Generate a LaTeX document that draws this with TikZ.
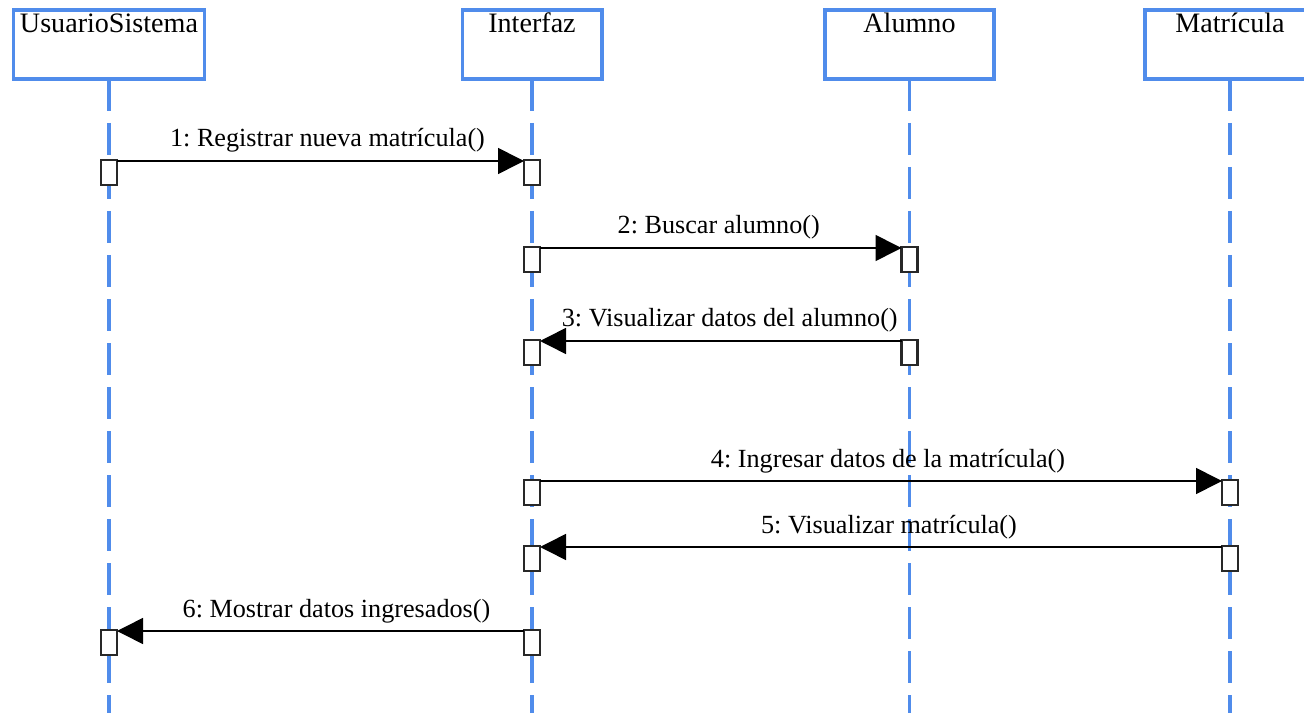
\documentclass[tikz,border=0pt]{standalone}
\usepackage{fontspec}
\setmainfont{Liberation Serif}
\usetikzlibrary{arrows.meta}
\frenchspacing

\definecolor{lifeblue}{RGB}{80,140,235}
\definecolor{actgray}{RGB}{40,40,40}

\tikzset{
  headbox/.style={draw=lifeblue, line width=2pt, fill=white, rectangle,
    minimum height=69*0.2mm, inner sep=0pt, outer sep=0pt},
  headtext/.style={anchor=base, font=\fontsize{16}{19}\selectfont, inner sep=0pt},
  lifeline/.style={draw=lifeblue, line width=1.8pt, dash pattern=on 6.4mm off 2.4mm},
  actbox/.style={draw=actgray, line width=1.2pt, fill=white, rectangle,
    minimum width=16*0.2mm, minimum height=25*0.2mm, inner sep=0pt, outer sep=0pt, anchor=north},
  msg/.style={draw=black, line width=0.9pt,
    -{Triangle[length=5.2mm, width=5.2mm]}},
  msglabel/.style={midway, anchor=base, yshift=14*0.2mm, inner sep=0pt,
    font=\fontsize{14.9}{18}\selectfont},
}

\begin{document}
\begin{tikzpicture}[x=0.2mm, y=-0.2mm]
  \useasboundingbox (0,0) rectangle (1304,713);
  \clip (0,0) rectangle (1304,713);

  % lifelines
  \coordinate (usTop) at (109,79);  \coordinate (usBot) at (109,713);
  \coordinate (ifTop) at (532,79);  \coordinate (ifBot) at (532,713);
  \coordinate (alTop) at (909.5,79); \coordinate (alBot) at (909.5,713);
  \coordinate (maTop) at (1230,79); \coordinate (maBot) at (1230,713);
  \draw[lifeline] (usTop) -- (usBot);
  \draw[lifeline] (ifTop) -- (ifBot);
  \draw[lifeline] (alTop) -- (alBot);
  \draw[lifeline] (maTop) -- (maBot);

  % participant boxes
  \node[headbox, minimum width=191*0.2mm] (us) at (109,44.5) {};
  \node[headbox, minimum width=139.5*0.2mm] (if) at (532,44.5) {};
  \node[headbox, minimum width=169*0.2mm] (al) at (909.5,44.5) {};
  \node[headbox, minimum width=170*0.2mm] (ma) at (1230,44.5) {};
  \node[headtext] (usT) at (109,33) {UsuarioSistema};
  \node[headtext] (ifT) at (532,33) {Interfaz};
  \node[headtext] (alT) at (909.5,33) {Alumno};
  \node[headtext] (maT) at (1230,33) {Matrícula};

  % activation boxes
  \node[actbox] (a1) at (109,160) {};
  \node[actbox] (b1) at (532,160) {};
  \node[actbox] (a2) at (532,247) {};
  \node[actbox] (b2) at (909.5,247) {};
  \node[actbox] (a3) at (909.5,340) {};
  \node[actbox] (b3) at (532,340) {};
  \node[actbox] (a4) at (532,480) {};
  \node[actbox] (b4) at (1230,480) {};
  \node[actbox] (a5) at (1230,546) {};
  \node[actbox] (b5) at (532,546) {};
  \node[actbox] (a6) at (532,630) {};
  \node[actbox] (b6) at (109,630) {};

  % messages
  \draw[msg] ([yshift=-0.2mm]a1.north east) -- node[msglabel, xshift=7*0.2mm] {1: Registrar nueva matrícula()} ([yshift=-0.2mm]b1.north west);
  \draw[msg] ([yshift=-0.2mm]a2.north east) -- node[msglabel, xshift=-2*0.2mm] {2: Buscar alumno()} ([yshift=-0.2mm]b2.north west);
  \draw[msg] ([yshift=-0.2mm]a3.north west) -- node[msglabel, xshift=9*0.2mm] {3: Visualizar datos del alumno()} ([yshift=-0.2mm]b3.north east);
  \draw[msg] ([yshift=-0.2mm]a4.north east) -- node[msglabel, xshift=7*0.2mm] {4: Ingresar datos de la matrícula()} ([yshift=-0.2mm]b4.north west);
  \draw[msg] ([yshift=-0.2mm]a5.north west) -- node[msglabel, xshift=8*0.2mm] {5: Visualizar matrícula()} ([yshift=-0.2mm]b5.north east);
  \draw[msg] ([yshift=-0.2mm]a6.north west) -- node[msglabel, xshift=16*0.2mm] {6: Mostrar datos ingresados()} ([yshift=-0.2mm]b6.north east);
\end{tikzpicture}
\end{document}
